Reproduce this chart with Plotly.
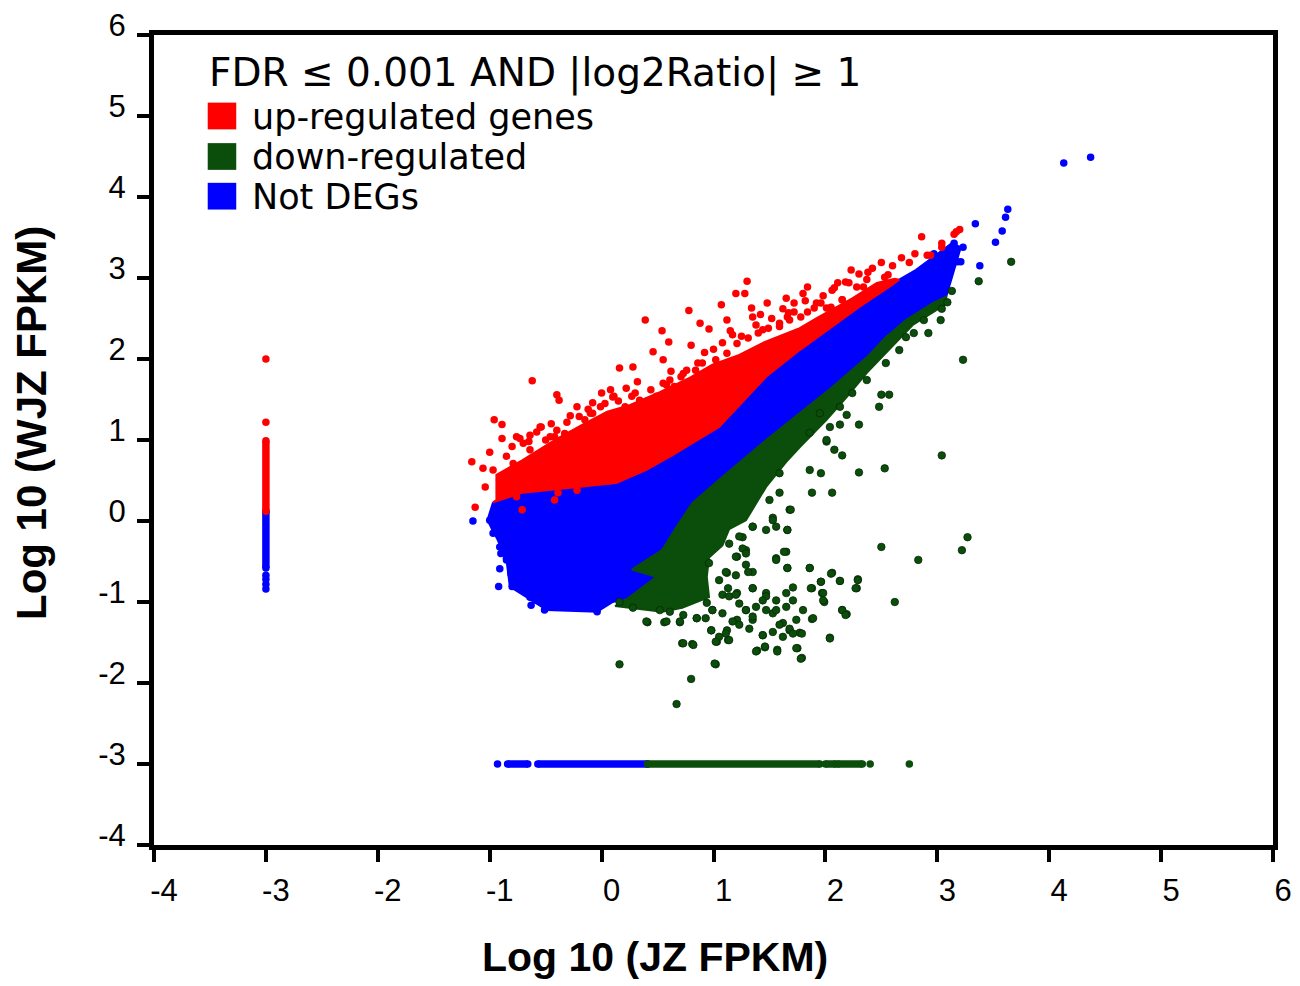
import plotly.graph_objects as go

# ---------------- data (log10 FPKM units) ----------------
# dense cores of the three classes (outlines of the solid clouds)
not_core_x = [-0.97, -0.71, -0.26, 0.13, 0.40, 0.63, 1.05, 1.47, 1.77, 2.06, 2.30, 2.57, 2.66, 2.81, 2.96, 3.13, 3.21,
              3.08, 2.96, 2.72, 2.54, 2.37, 2.06, 1.77, 1.47, 1.05, 0.81, 0.67, 0.54, 0.27, 0.49, 0.25, 0.10, -0.04,
              -0.49, -0.67, -0.82, -0.85, -0.93, -1.02]
not_core_y = [0.23, 0.35, 0.41, 0.47, 0.63, 0.81, 1.16, 1.78, 2.11, 2.40, 2.64, 2.89, 2.98, 3.10, 3.26, 3.43, 3.38,
              2.77, 2.69, 2.48, 2.27, 2.02, 1.65, 1.33, 1.00, 0.51, 0.22, -0.07, -0.36, -0.60, -0.69, -0.94, -1.00, -1.12,
              -1.10, -0.94, -0.81, -0.48, -0.23, 0.01]

up_core_x = [-0.94, -0.94, -0.71, -0.42, -0.17, 0.05, 0.25, 0.52, 0.79, 0.99, 1.23, 1.46, 1.77, 1.93, 2.24, 2.46, 2.62,
             2.66, 2.57, 2.30, 2.06, 1.77, 1.47, 1.05, 0.63, 0.40, 0.13, -0.26, -0.71, -0.97]
up_core_y = [0.26, 0.57, 0.75, 1.00, 1.19, 1.35, 1.43, 1.59, 1.77, 1.93, 2.05, 2.21, 2.38, 2.51, 2.75, 2.94, 2.99,
             2.98, 2.89, 2.64, 2.40, 2.11, 1.78, 1.16, 0.81, 0.63, 0.47, 0.41, 0.35, 0.23]

down_core_x = [0.12, 0.25, 0.49, 0.27, 0.54, 0.67, 0.81, 1.05, 1.47, 1.77, 2.06, 2.37, 2.54, 2.72, 2.96, 3.08,
               3.08, 2.78, 2.54, 2.37, 2.19, 2.01, 1.77, 1.65, 1.47, 1.29, 1.14, 1.08, 0.96, 0.94, 0.96, 0.72, 0.54,
               0.25]
down_core_y = [-1.05, -0.94, -0.69, -0.60, -0.36, -0.07, 0.22, 0.51, 1.00, 1.33, 1.65, 2.02, 2.27, 2.48, 2.69, 2.77,
               2.68, 2.42, 2.07, 1.83, 1.53, 1.25, 0.91, 0.73, 0.42, 0.01, -0.10, -0.30, -0.45, -0.69, -0.94, -1.07,
               -1.12, -1.07]

# scattered genes around the cores
up_x = [-0.62, -0.40, -0.38, -0.96, -0.89, -0.89, -0.73, -0.64, -0.55, -0.46, -0.40, -0.31, -0.22, -0.08, -0.08, 0.00,
        0.10, 0.16, 0.28, 0.22, 0.34, 0.37, 0.49, 0.52, 0.61, 0.70, 0.76, 0.94, -1.16, -1.06, -1.00, -0.97, -1.04,
        -1.13, -0.71, -0.76, -0.42, -0.39, -0.22,
        0.39, 0.54, 0.78, 1.07, 1.30, 1.20, 1.28, 0.88, 0.96, 0.60, 0.80, 0.46, 0.55,
        2.50, 2.75, 2.94, 2.38, 2.23, 2.11, 2.21, 1.80, 1.65, 1.48, 1.34, 1.67, 1.84, 2.05, 2.34, 2.56,
        1.35, 1.72, 1.84, 2.53, 2.86, 2.91, 3.04, 3.17, 3.20, 1.12, 1.17, 1.44, 1.59, 1.66, 2.01, 2.15, 2.28,
        2.37, 1.92, 2.06, 3.15, 3.04,
        -0.76, -0.70, -0.54, -0.64, -0.79, -0.42, -0.36, -0.20, -0.10, -0.17, -0.01, 0.11, 0.21, 0.27, 0.40, 0.49,
        0.55, 0.65, 0.71, 0.84, 0.90, 1.02, 1.12, 1.21, 1.31, 1.40, 1.49, 1.59, 1.68, 1.78, 1.90, 1.96, 2.15, 2.34,
        -0.85, -0.80, -0.65, -0.58, -0.50, -0.45, -0.33, -0.28, -0.15, -0.12, 0.03, 0.08, 0.15, 0.30, 0.32, 0.44,
        0.58, 0.62, 0.73, 0.86, 0.92, 1.00, 1.08, 1.15, 1.25, 1.38, 1.42, 1.52, 1.62, 1.72, 1.82, 1.98, 2.08, 2.18,
        2.30, 2.42, 2.60, 2.68, 2.80]
up_y = [1.73, 1.56, 1.49, 1.25, 1.19, 1.02, 1.02, 1.06, 1.16, 1.04, 1.12, 1.22, 1.41, 1.46, 1.33, 1.58,
        1.53, 1.89, 1.90, 1.64, 1.49, 1.37, 1.46, 1.49, 1.74, 1.62, 1.86, 1.78, 0.73, 0.65, 0.85, 0.63, 0.42,
        0.17, 0.14, 0.30, 0.26, 0.35, 0.38,
        2.48, 2.35, 2.60, 2.67, 2.96, 2.81, 2.81, 2.44, 2.37, 2.21, 2.17, 2.09, 1.99,
        3.19, 3.19, 3.28, 3.07, 3.10, 2.94, 2.94, 2.81, 2.75, 2.69, 2.63, 2.57, 2.58, 2.64, 2.89, 3.04,
        2.52, 2.69, 2.89, 3.01, 3.51, 3.28, 3.43, 3.57, 3.60, 2.48, 2.30, 2.36, 2.40, 2.52, 2.63, 2.73, 2.89,
        2.98, 2.69, 2.85, 3.54, 3.38,
        1.04, 0.96, 1.16, 0.88, 0.71, 1.04, 0.96, 1.29, 1.33, 1.12, 1.41, 1.54, 1.41, 1.54, 1.41, 1.54,
        1.70, 1.66, 1.78, 1.86, 1.95, 1.99, 2.07, 2.19, 2.26, 2.32, 2.38, 2.44, 2.48, 2.52, 2.63, 2.69, 2.73, 2.77,
        0.80, 0.92, 0.98, 1.10, 1.00, 1.20, 1.08, 1.30, 1.25, 1.38, 1.45, 1.62, 1.48, 1.58, 1.72, 1.62,
        1.68, 1.85, 1.82, 1.95, 2.08, 2.12, 2.20, 2.35, 2.28, 2.42, 2.55, 2.50, 2.62, 2.58, 2.72, 2.78, 2.88, 2.95,
        3.05, 3.12, 3.15, 3.25, 3.30]

down_x = [3.04, 2.53, 2.30, 2.06, 1.88, 1.86, 1.96, 2.08, 2.15, 2.30, 2.13, 2.01, 1.68, 1.66, 1.59, 1.50, 1.53, 1.35,
          1.26, 1.21, 1.29, 1.56, 1.65, 1.66, 1.86, 2.06, 2.13, 1.96, 1.88, 1.97, 1.99, 2.29, 2.28, 2.50, 2.83, 3.27,
          3.22, 2.62, 2.15, 2.19, 1.88, 2.04, 1.79, 1.75, 1.57, 1.39, 1.46, 1.44, 1.68, 1.77, 1.62, 1.53, 1.35, 1.29,
          1.21, 1.12, 1.03, 1.13, 0.98, 1.02, 0.80, 0.67, 0.16, 0.72, 0.81, 0.41, 0.56, 0.70, 0.28, 0.16, 1.08, 1.21,
          1.35, 1.47, 0.99, 0.85, 0.94, 1.12, 0.96, 1.35,
          3.66, 3.37, 3.13, 3.09, 3.04, 3.03, 2.88, 2.92, 2.79, 3.23, 2.19, 2.01, 1.59, 2.48, 2.50, 2.57, 2.54,
          2.66, 2.72, 2.37, 2.24, 2.13, 2.04, 1.86, 1.95,
          1.69, 1.53, 1.56, 1.66, 1.47, 1.35, 1.23, 1.26, 1.29, 1.20, 1.14, 1.63, 1.56, 1.66, 1.86, 2.05, 2.13, 1.96,
          1.87, 1.71, 1.65, 1.56, 1.47, 1.44, 1.35, 1.29, 1.31, 1.20, 1.11, 1.05, 1.13, 1.14, 1.20, 1.23, 1.29, 1.35,
          1.38, 1.47, 1.56, 1.65, 1.71, 1.80, 1.98, 1.98, 2.15, 2.18, 1.89, 1.74, 1.68, 1.59, 1.53, 1.44, 1.32, 1.23,
          1.17, 1.08, 0.99, 0.93, 0.85, 0.73, 0.61, 0.52, 0.40, 0.58, 0.70, 0.98, 1.11, 1.05, 1.14, 1.02, 0.73, 0.82,
          1.46, 1.38, 1.57, 1.74, 1.78, 1.79, 2.04, 1.71, 1.62, 1.01, 2.29, 2.27]
down_y = [0.81, 0.65, 0.60, 0.35, 0.35, 0.63, 0.59, 0.88, 0.81, 1.19, 1.19, 0.98, 0.14, -0.11, 0.35, 0.26, 0.04, -0.07,
          -0.20, -0.44, -0.36, -0.46, -0.38, -0.58, -0.58, -0.64, -0.74, -0.75, -0.83, -0.89, -1.00, -0.72, -0.83, -0.32,
          -0.48, -0.20, -0.36, -1.00, -1.10, -1.15, -1.21, -1.44, -1.69, -1.57, -1.59, -1.60, -1.56, -1.41, -1.35, -1.38,
          -1.26, -1.14, -1.22, -1.10, -1.22, -1.35, -1.49, -1.47, -1.35, -1.77, -1.95, -2.26, -1.77, -1.51, -1.52, -1.25,
          -1.25, -1.25, -1.07, -1.00, -0.91, -0.89, -0.83, -0.89, -1.10, -1.20, -1.01, -0.64, -0.52, -0.63,
          3.20, 2.96, 2.84, 2.70, 2.62, 2.48, 2.48, 2.32, 2.32, 1.99, 1.31, 1.00, 0.59, 1.41, 1.56, 1.56, 1.95,
          2.11, 2.27, 1.74, 1.58, 1.41, 1.16, 1.09, 1.33,
          0.14, 0.01, -0.07, -0.11, -0.11, -0.07, -0.19, -0.34, -0.40, -0.44, -0.28, -0.38, -0.48, -0.58, -0.58, -0.65,
          -0.74, -0.75, -0.83, -0.82, -0.89, -0.98, -0.93, -0.98, -0.83, -0.54, -0.63, -0.67, -0.63, -0.73, -0.83,
          -0.93, -0.91, -1.02, -1.10, -1.18, -1.06, -1.10, -1.10, -1.06, -0.98, -1.10, -0.98, -0.89, -1.10, -1.16,
          -1.20, -1.22, -1.33, -1.28, -1.37, -1.41, -1.33, -1.28, -1.24, -1.14, -1.10, -1.20, -1.20, -1.16, -1.12,
          -1.10, -1.24, -1.24, -1.24, -1.35, -1.39, -1.43, -1.47, -1.49, -1.51, -1.53, -1.55, -1.61, -1.61, -1.57,
          -1.70, -1.39, -1.45, -1.39, -1.43, -1.76, -0.73, -0.83]

not_x = [-1.15, -0.91, -0.64, -0.51, -0.04, -0.80, -0.76, -0.71, -0.85, -0.82, -0.73, -0.62, -0.55, -0.46, -0.40,
         -0.31, -0.20, -0.91, -0.97, -0.92, -0.63, -0.04,
         4.13, 4.37, 3.63, 3.61, 3.58, 3.52, 3.34, 3.38, 3.23, 3.18, 3.11, 2.97, 3.08, 2.96, 2.90, 3.02, 2.84, 2.78,
         2.87, 2.72, 3.15, 3.21,
         -1.00, -0.96, -0.91, -0.87, -0.81, -0.90, -0.85, -0.81, -0.76, -0.70, -0.64, -0.81, -0.76, -0.67, -0.61,
         -0.55, -0.49, -0.70, -0.64, -0.55, -0.46, -0.40, -0.30, -0.20, -0.14, -0.37, -0.58]
not_y = [0.00, -0.59, -0.94, -1.10, -1.10, -0.81, -0.73, -0.69, -0.48, -0.40, -0.32, -0.23, -0.48, -0.57, -0.69,
         -0.48, -0.69, -0.32, -0.15, -0.81, -1.04, -1.12,
         4.42, 4.49, 3.85, 3.75, 3.58, 3.44, 3.67, 3.15, 3.38, 3.20, 3.28, 3.30, 3.10, 3.01, 2.94, 2.89, 2.85, 2.69,
         2.64, 2.77, 3.43, 3.20,
         0.01, -0.07, -0.15, -0.23, -0.30, -0.40, -0.46, -0.52, -0.48, -0.44, -0.48, -0.65, -0.60, -0.56, -0.65,
         -0.60, -0.69, -0.81, -0.77, -0.89, -0.85, -0.98, -0.89, -0.98, -1.06, -1.06, -0.98]

# genes with zero expression in one sample (plotted at -3)
up_zero_y = [0.12, 0.99]
up_zero_pts_y = [1.22, 2.00]
not_zero_y = [-0.58, 0.12]
not_zero_pts_y = [-0.67, -0.72, -0.78, -0.84]
not_zero_x_runs = [[-0.57, 0.41], [-0.84, -0.66]]
not_zero_x_pts = [-0.93]
down_zero_x_runs = [[0.41, 1.95], [2.00, 2.09], [2.11, 2.33]]
down_zero_x_pts = [2.40, 2.75]
ZERO = -3

legend_title = "FDR \u2264 0.001 AND |log2Ratio| \u2265 1"
legend_labels = ["up-regulated genes", "down-regulated", "Not DEGs"]
x_title = "Log 10 (JZ FPKM)"
y_title = "Log 10 (WJZ FPKM)"
RED, GREEN, BLUE = "#ff0000", "#0b4d0b", "#0000ff"
legend_colors = [RED, GREEN, BLUE]
x_ticks = [-4, -3, -2, -1, 0, 1, 2, 3, 4, 5, 6]
y_ticks = [-4, -3, -2, -1, 0, 1, 2, 3, 4, 5, 6]

# ---------------- figure ----------------
fig = go.Figure()
MS = 7.5


def core(x, y, c):
    fig.add_trace(go.Scatter(x=x + x[:1], y=y + y[:1], mode="lines", fill="toself", fillcolor=c,
                             line=dict(color=c, width=2), hoverinfo="skip", showlegend=False))


def pts(x, y, c, lc=None):
    fig.add_trace(go.Scatter(x=x, y=y, mode="markers", showlegend=False,
                             marker=dict(size=MS, color=c, line=dict(width=0.8 if lc else 0, color=lc or c))))


def run(x, y, c):
    fig.add_trace(go.Scatter(x=x, y=y, mode="lines+markers", showlegend=False,
                             line=dict(color=c, width=MS), marker=dict(size=MS, color=c)))


core(not_core_x, not_core_y, BLUE)
pts(not_x, not_y, BLUE)
core(down_core_x, down_core_y, GREEN)
pts(down_x, down_y, GREEN, "#052a05")
core(up_core_x, up_core_y, RED)
pts(up_x, up_y, RED)

# zero-expression rows / columns
run([ZERO, ZERO], not_zero_y, BLUE)
pts([ZERO] * len(not_zero_pts_y), not_zero_pts_y, BLUE)
run([ZERO, ZERO], up_zero_y, RED)
pts([ZERO] * len(up_zero_pts_y), up_zero_pts_y, RED)
for r in not_zero_x_runs:
    run(r, [ZERO, ZERO], BLUE)
pts(not_zero_x_pts, [ZERO] * len(not_zero_x_pts), BLUE)
for r in down_zero_x_runs:
    run(r, [ZERO, ZERO], GREEN)
pts(down_zero_x_pts, [ZERO] * len(down_zero_x_pts), GREEN)

# ---------------- legend (drawn manually for large square keys) ----------------
shapes = []
annos = [dict(text=legend_title, x=0.047, y=0.953, xref="paper", yref="paper", xanchor="left", yanchor="middle",
              showarrow=False, font=dict(family="DejaVu Sans", size=39, color="black"))]
key_y = [0.900, 0.850, 0.801]
for lab, col, yy in zip(legend_labels, legend_colors, key_y):
    shapes.append(dict(type="rect", xref="paper", yref="paper", x0=0.048, x1=0.0735, y0=yy - 0.0165, y1=yy + 0.0165,
                       fillcolor=col, line=dict(width=0)))
    annos.append(dict(text=lab, x=0.0855, y=yy - 0.001, xref="paper", yref="paper", xanchor="left", yanchor="middle",
                      showarrow=False, font=dict(family="DejaVu Sans", size=35, color="black")))

# axis titles (placed as in the original, slightly off-centre)
title_font = dict(family="Liberation Sans", color="black", weight="bold")
annos.append(dict(text=x_title, x=0.4477, y=-0.138, xref="paper", yref="paper", xanchor="center", yanchor="middle",
                  showarrow=False, font=dict(size=41, **title_font)))
annos.append(dict(text=y_title, x=-0.109, y=0.521, xref="paper", yref="paper", xanchor="center", yanchor="middle",
                  textangle=-90, showarrow=False, font=dict(size=42, **title_font)))

axis_common = dict(showgrid=False, zeroline=False, showline=True, linewidth=5, linecolor="black", mirror=True,
                   ticks="outside", ticklen=12, tickwidth=4, tickcolor="black", ticklabeloverflow="allow",
                   automargin=False, tickfont=dict(family="Liberation Sans", size=31, color="black"))

# page is shown with the browser's default 8px body margin, so the figure is 8px smaller
fig.update_layout(
    width=1292, height=978, margin=dict(l=146, r=27, t=27, b=141, autoexpand=False),
    paper_bgcolor="white", plot_bgcolor="white", showlegend=False,
    shapes=shapes, annotations=annos,
    xaxis=dict(range=[-4, 6], tickvals=x_ticks, ticktext=[str(v) for v in x_ticks], ticklabelshift=10,
               ticklabelstandoff=2, **axis_common),
    yaxis=dict(range=[-4, 6], tickvals=y_ticks, ticktext=[str(v) for v in y_ticks], ticklabelshift=-10,
               ticklabelstandoff=5, **axis_common),
)

fig.write_html("out.html")
